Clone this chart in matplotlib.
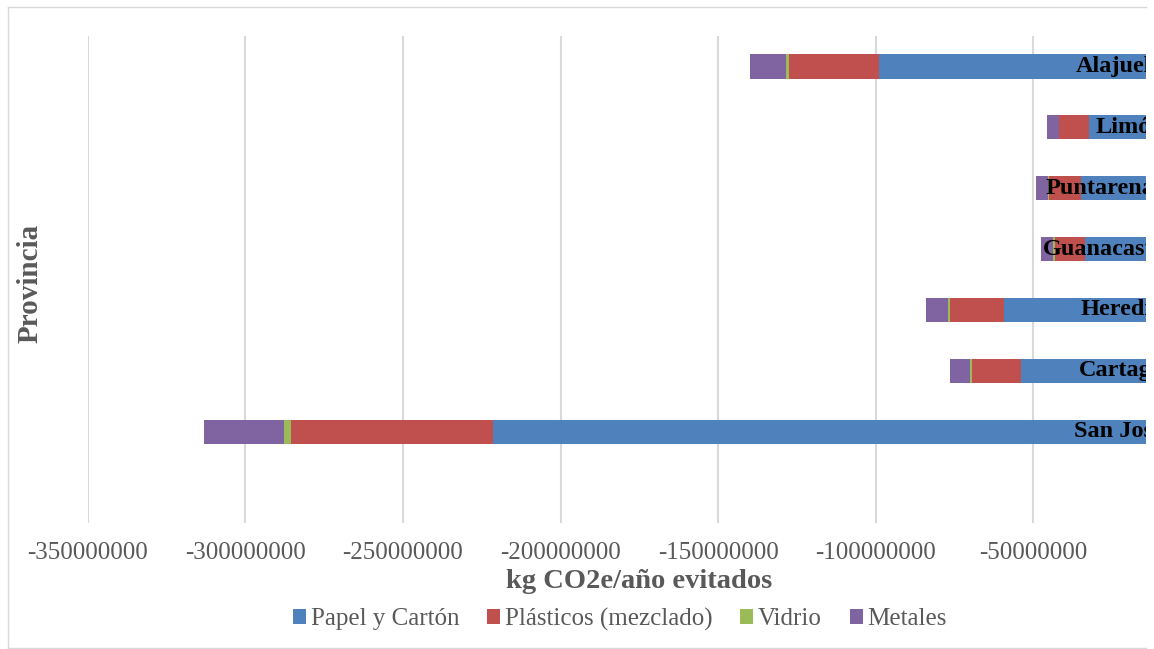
import matplotlib
matplotlib.use("Agg")
import matplotlib.pyplot as plt
from matplotlib.patches import Patch
from matplotlib.lines import Line2D
import numpy as np

# Avoided emissions by province (kg CO2e/año), negative = avoided
provincias = ["San José", "Cartago", "Heredia", "Guanacaste", "Puntarenas", "Limón", "Alajuela"]
papel_carton = [-221300000, -54000000, -59400000, -33600000, -34900000, -32300000, -98900000]
plasticos = [-64300000, -15450000, -17000000, -9600000, -10100000, -9400000, -28600000]
vidrio = [-2100000, -630000, -540000, -440000, -400000, -300000, -1000000]
metales = [-25400000, -6250000, -7000000, -3800000, -3900000, -3600000, -11300000]

series_names = ["Papel y Cartón", "Plásticos (mezclado)", "Vidrio", "Metales"]
series_colors = ["#4F81BD", "#C0504D", "#9BBB59", "#8064A2"]
x_ticks = [-350000000, -300000000, -250000000, -200000000, -150000000, -100000000, -50000000]

plt.rcParams["font.family"] = ["Liberation Serif", "DejaVu Serif"]

W, H = 1154, 649
fig = plt.figure(figsize=(W / 100, H / 100), dpi=100)
fig.patch.set_facecolor("white")

left_px, right_px, top_px, bottom_px = 87.7, 1146, 36, 523
ax = fig.add_axes([left_px / W, 1 - bottom_px / H, (right_px - left_px) / W, (bottom_px - top_px) / H])

y = np.arange(len(provincias))
bar_h = 0.4
left = np.zeros(len(provincias))
for vals, color in zip([papel_carton, plasticos, vidrio, metales], series_colors):
    vals = np.array(vals, dtype=float)
    ax.barh(y, vals, left=left, height=bar_h, color=color, edgecolor="none", zorder=3)
    left = left + vals

ax.set_xlim(-350000000, -14250000)
ax.set_ylim(-1.5, 6.5)

ax.set_xticks(x_ticks)
ax.set_xticklabels([str(t) for t in x_ticks])
ax.set_yticks([])
ax.tick_params(axis="x", length=0, pad=14, labelsize=18, labelcolor="#595959")
ax.grid(axis="x", color="#D9D9D9", linewidth=1.5, zorder=0)
ax.set_axisbelow(True)
for s in ax.spines.values():
    s.set_visible(False)

# Category labels sit next to the zero axis and are clipped by the plot area
for yi, name in zip(y, provincias):
    ax.annotate(name, xy=(0, yi), xycoords="data", xytext=(-19.5, 0),
                textcoords="offset points", ha="right", va="center",
                fontsize=17.5, fontweight="bold", color="black",
                annotation_clip=False, clip_on=True, zorder=5)

fig.text(639.5 / W, 1 - 581 / H, "kg CO2e/año evitados", ha="center", va="center",
         fontsize=20.5, fontweight="bold", color="#595959")
fig.text(30 / W, 1 - 283 / H, "Provincia", ha="center", va="center", rotation=90,
         fontsize=21, fontweight="bold", color="#595959")

handles = [Patch(facecolor=c, edgecolor="none") for c in series_colors]
fig.legend(handles, series_names, loc="center", bbox_to_anchor=(620 / W, 1 - 619 / H),
           ncol=4, frameon=False, fontsize=18, labelcolor="#595959",
           handlelength=0.52, handleheight=0.52, handletextpad=0.2, columnspacing=1.1,
           borderpad=0, borderaxespad=0)

# Chart area border
border = "#D9D9D9"
fig.add_artist(Line2D([8 / W, 8 / W], [1 - 7 / H, 1 - 648 / H], color=border, lw=1.0))
fig.add_artist(Line2D([8 / W, 1146 / W], [1 - 7 / H, 1 - 7 / H], color=border, lw=1.0))
fig.add_artist(Line2D([8 / W, 1146 / W], [1 - 648 / H, 1 - 648 / H], color=border, lw=1.0))

fig.savefig("out.png", dpi=100)
